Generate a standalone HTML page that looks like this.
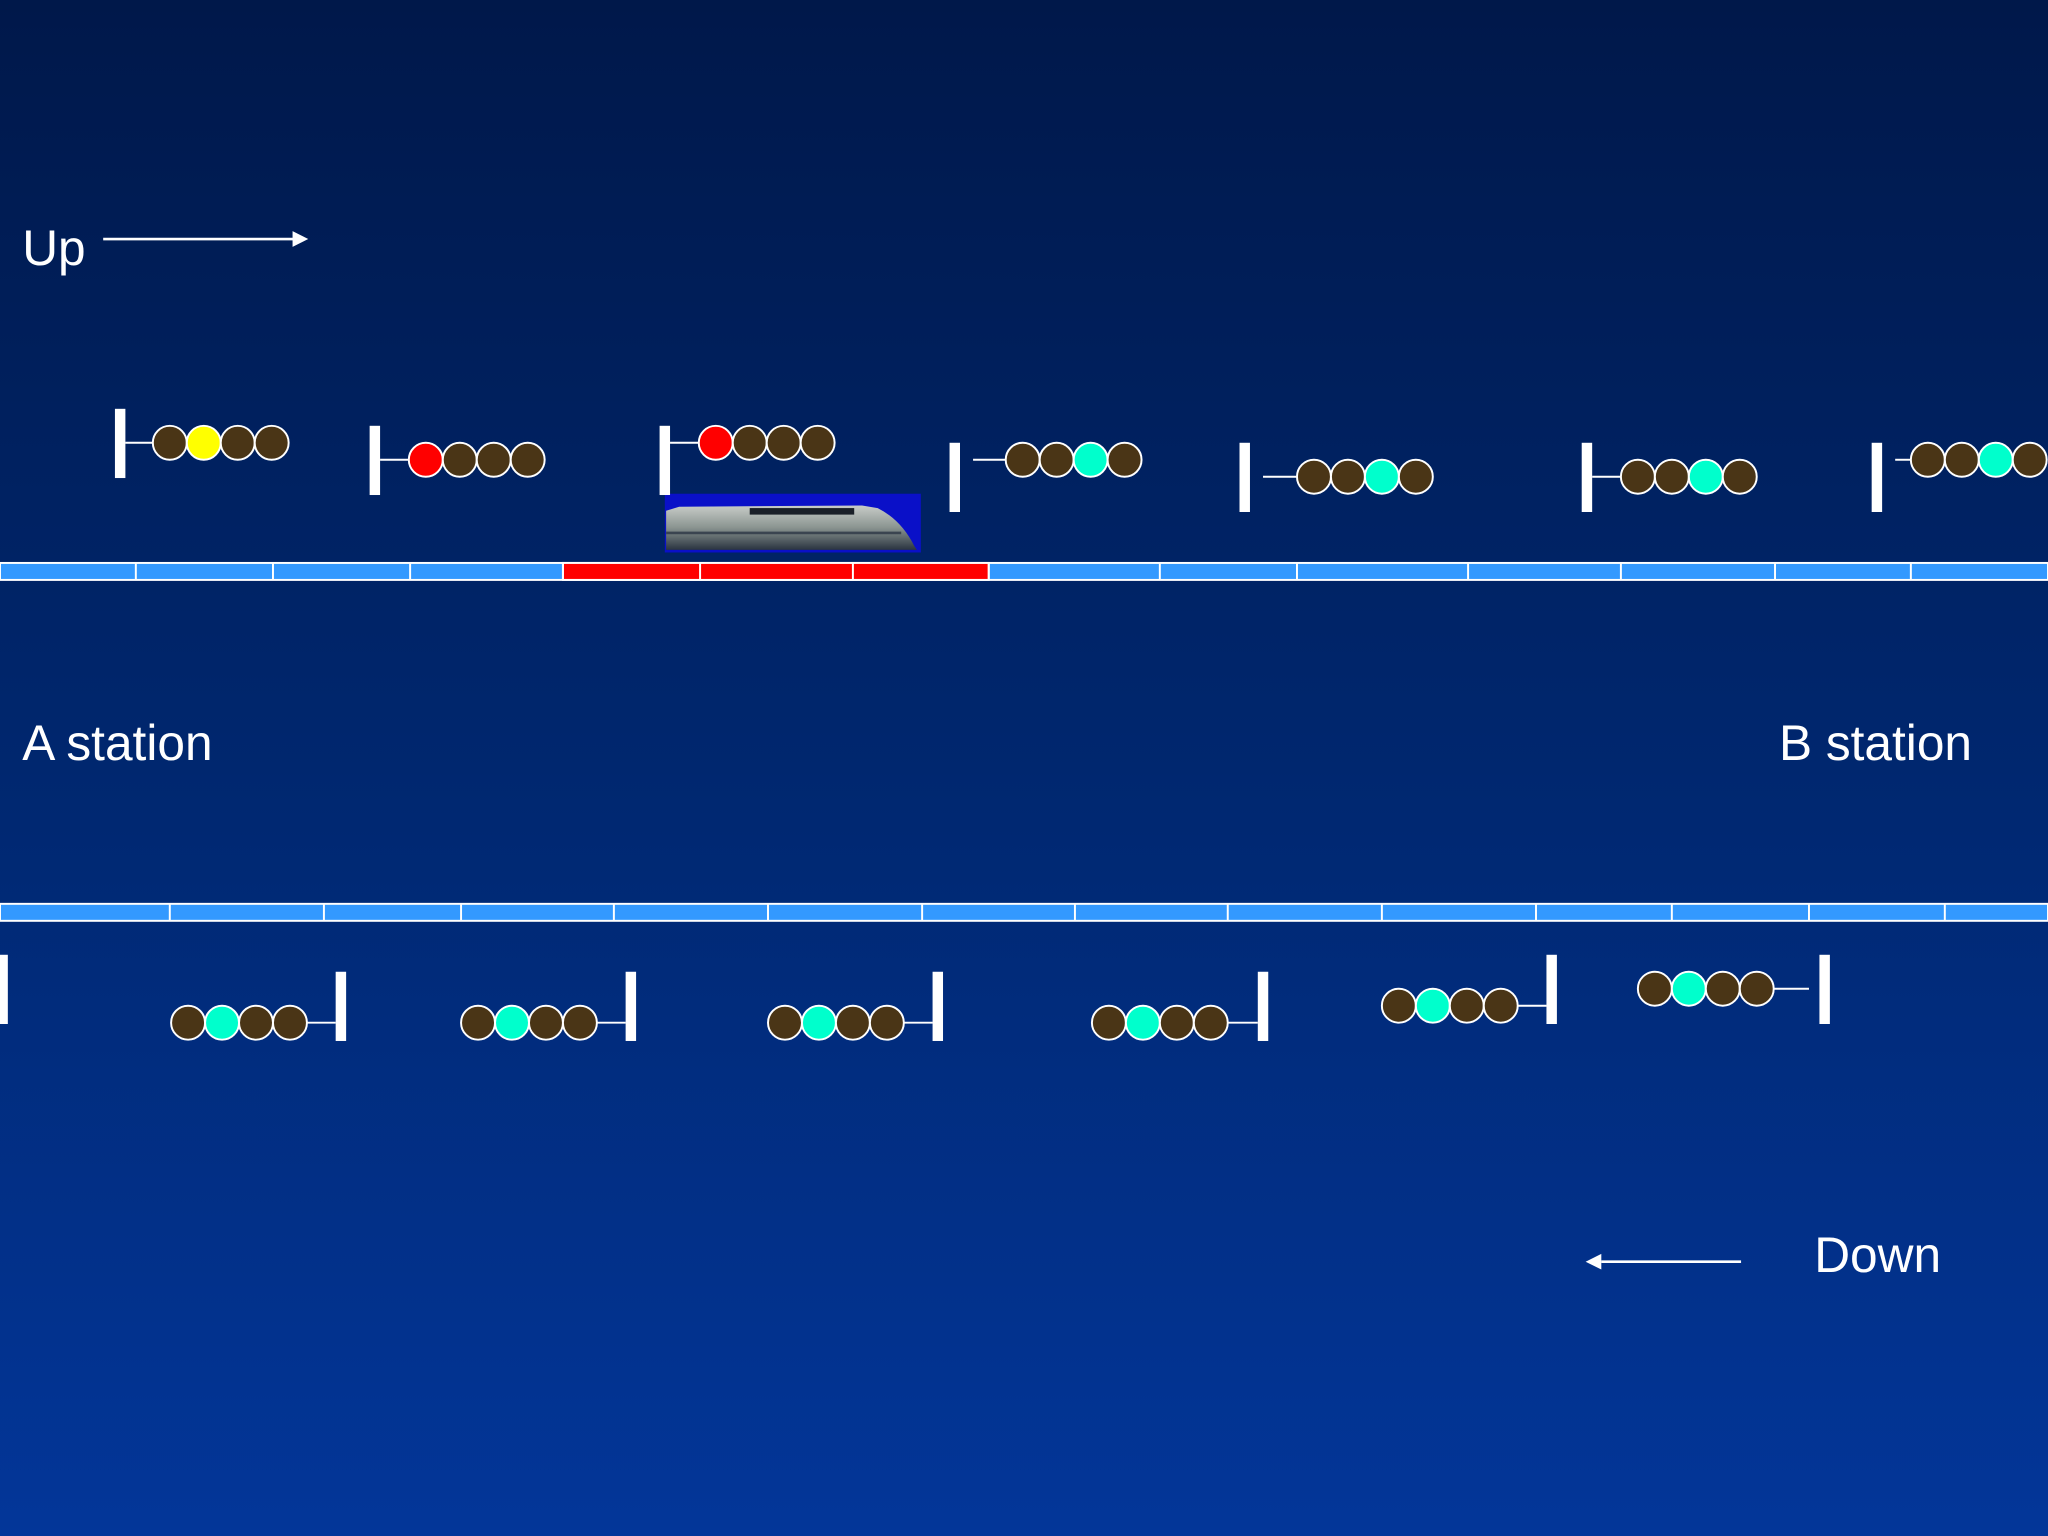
<!DOCTYPE html>
<html><head><meta charset="utf-8"><style>
html,body{margin:0;padding:0;width:2048px;height:1536px;overflow:hidden;background:#012a7a}
svg{display:block}
text{font-family:"Liberation Sans",Arial,sans-serif;fill:#fff}
</style></head><body>
<svg width="2048" height="1536" viewBox="0 0 1568 1176" xmlns="http://www.w3.org/2000/svg">
<defs>
<linearGradient id="bg" x1="0" y1="0" x2="0" y2="1">
<stop offset="0" stop-color="#00184a"/>
<stop offset="0.5" stop-color="#00276f"/>
<stop offset="1" stop-color="#033699"/>
</linearGradient>
<linearGradient id="tr" x1="0" y1="0" x2="0" y2="1">
<stop offset="0" stop-color="#c8ccc8"/>
<stop offset="0.5" stop-color="#8a9490"/>
<stop offset="1" stop-color="#2a3440"/>
</linearGradient>
</defs>
<rect width="1568" height="1176" fill="url(#bg)"/>

<!-- Text -->
<text x="17" y="203" font-size="38">Up</text>
<line x1="79" y1="183" x2="226" y2="183" stroke="#fff" stroke-width="2"/>
<polygon points="236,183 224,177 224,189" fill="#fff"/>
<text x="17" y="582" font-size="38">A station</text>
<text x="1362" y="582" font-size="38">B station</text>
<text x="1389" y="974" font-size="38">Down</text>
<line x1="1226" y1="966" x2="1333" y2="966" stroke="#fff" stroke-width="2"/>
<polygon points="1214,966 1226,960 1226,972" fill="#fff"/>

<!-- Top track -->
<g stroke="#fff" stroke-width="1.5">
<rect x="0" y="431" width="1568" height="13" fill="#3399ff"/>
<rect x="431" y="431" width="326" height="13" fill="#ff0000"/>
<path d="M104 431V444M209 431V444M314 431V444M431 431V444M536 431V444M653 431V444M757 431V444M888 431V444M993 431V444M1124 431V444M1241 431V444M1359 431V444M1463 431V444"/>
</g>
<!-- Bottom track -->
<g stroke="#fff" stroke-width="1.5">
<rect x="0" y="692" width="1568" height="13" fill="#3399ff"/>
<path d="M130 692V705M248 692V705M353 692V705M470 692V705M588 692V705M706 692V705M823 692V705M940 692V705M1058 692V705M1176 692V705M1280 692V705M1385 692V705M1489 692V705"/>
</g>

<!-- Train -->
<rect x="509" y="378" width="196" height="45" fill="#0a10c8"/>
<path d="M510 391 L520 388 L660 387 L672 389 Q690 398 700 418 L702 421 L510 421 Z" fill="url(#tr)"/>
<rect x="574" y="389" width="80" height="5" fill="#1a2028"/>
<line x1="510" y1="408" x2="690" y2="408" stroke="#3a4450" stroke-width="2"/>

<!-- Signals -->
<g fill="#fff">
<rect x="88" y="313" width="8" height="53"/>
<rect x="283" y="326" width="8" height="53"/>
<rect x="505" y="326" width="8" height="53"/>
<rect x="727" y="339" width="8" height="53"/>
<rect x="949" y="339" width="8" height="53"/>
<rect x="1211" y="339" width="8" height="53"/>
<rect x="1433" y="339" width="8" height="53"/>
<rect x="0" y="731" width="6" height="53"/>
<rect x="257" y="744" width="8" height="53"/>
<rect x="479" y="744" width="8" height="53"/>
<rect x="714" y="744" width="8" height="53"/>
<rect x="963" y="744" width="8" height="53"/>
<rect x="1184" y="731" width="8" height="53"/>
<rect x="1393" y="731" width="8" height="53"/>
</g>
<g stroke="#fff" stroke-width="1.5">
<line x1="96" y1="339" x2="117" y2="339"/>
<line x1="291" y1="352" x2="313" y2="352"/>
<line x1="513" y1="339" x2="535" y2="339"/>
<line x1="745" y1="352" x2="770" y2="352"/>
<line x1="967" y1="365" x2="993" y2="365"/>
<line x1="1219" y1="365" x2="1241" y2="365"/>
<line x1="1451" y1="352" x2="1463" y2="352"/>
<line x1="235" y1="783" x2="257" y2="783"/>
<line x1="457" y1="783" x2="479" y2="783"/>
<line x1="692" y1="783" x2="714" y2="783"/>
<line x1="940" y1="783" x2="963" y2="783"/>
<line x1="1162" y1="770" x2="1184" y2="770"/>
<line x1="1358" y1="757" x2="1385" y2="757"/>
</g>
<g stroke="#fff" stroke-width="1.5">
<!-- top -->
<circle cx="130" cy="339" r="13" fill="#4a3516"/><circle cx="156" cy="339" r="13" fill="#ffff00"/><circle cx="182" cy="339" r="13" fill="#4a3516"/><circle cx="208" cy="339" r="13" fill="#4a3516"/>
<circle cx="326" cy="352" r="13" fill="#ff0000"/><circle cx="352" cy="352" r="13" fill="#4a3516"/><circle cx="378" cy="352" r="13" fill="#4a3516"/><circle cx="404" cy="352" r="13" fill="#4a3516"/>
<circle cx="548" cy="339" r="13" fill="#ff0000"/><circle cx="574" cy="339" r="13" fill="#4a3516"/><circle cx="600" cy="339" r="13" fill="#4a3516"/><circle cx="626" cy="339" r="13" fill="#4a3516"/>
<circle cx="783" cy="352" r="13" fill="#4a3516"/><circle cx="809" cy="352" r="13" fill="#4a3516"/><circle cx="835" cy="352" r="13" fill="#00ffcc"/><circle cx="861" cy="352" r="13" fill="#4a3516"/>
<circle cx="1006" cy="365" r="13" fill="#4a3516"/><circle cx="1032" cy="365" r="13" fill="#4a3516"/><circle cx="1058" cy="365" r="13" fill="#00ffcc"/><circle cx="1084" cy="365" r="13" fill="#4a3516"/>
<circle cx="1254" cy="365" r="13" fill="#4a3516"/><circle cx="1280" cy="365" r="13" fill="#4a3516"/><circle cx="1306" cy="365" r="13" fill="#00ffcc"/><circle cx="1332" cy="365" r="13" fill="#4a3516"/>
<circle cx="1476" cy="352" r="13" fill="#4a3516"/><circle cx="1502" cy="352" r="13" fill="#4a3516"/><circle cx="1528" cy="352" r="13" fill="#00ffcc"/><circle cx="1554" cy="352" r="13" fill="#4a3516"/>
<!-- bottom -->
<circle cx="144" cy="783" r="13" fill="#4a3516"/><circle cx="170" cy="783" r="13" fill="#00ffcc"/><circle cx="196" cy="783" r="13" fill="#4a3516"/><circle cx="222" cy="783" r="13" fill="#4a3516"/>
<circle cx="366" cy="783" r="13" fill="#4a3516"/><circle cx="392" cy="783" r="13" fill="#00ffcc"/><circle cx="418" cy="783" r="13" fill="#4a3516"/><circle cx="444" cy="783" r="13" fill="#4a3516"/>
<circle cx="601" cy="783" r="13" fill="#4a3516"/><circle cx="627" cy="783" r="13" fill="#00ffcc"/><circle cx="653" cy="783" r="13" fill="#4a3516"/><circle cx="679" cy="783" r="13" fill="#4a3516"/>
<circle cx="849" cy="783" r="13" fill="#4a3516"/><circle cx="875" cy="783" r="13" fill="#00ffcc"/><circle cx="901" cy="783" r="13" fill="#4a3516"/><circle cx="927" cy="783" r="13" fill="#4a3516"/>
<circle cx="1071" cy="770" r="13" fill="#4a3516"/><circle cx="1097" cy="770" r="13" fill="#00ffcc"/><circle cx="1123" cy="770" r="13" fill="#4a3516"/><circle cx="1149" cy="770" r="13" fill="#4a3516"/>
<circle cx="1267" cy="757" r="13" fill="#4a3516"/><circle cx="1293" cy="757" r="13" fill="#00ffcc"/><circle cx="1319" cy="757" r="13" fill="#4a3516"/><circle cx="1345" cy="757" r="13" fill="#4a3516"/>
</g>
</svg>
</body></html>
